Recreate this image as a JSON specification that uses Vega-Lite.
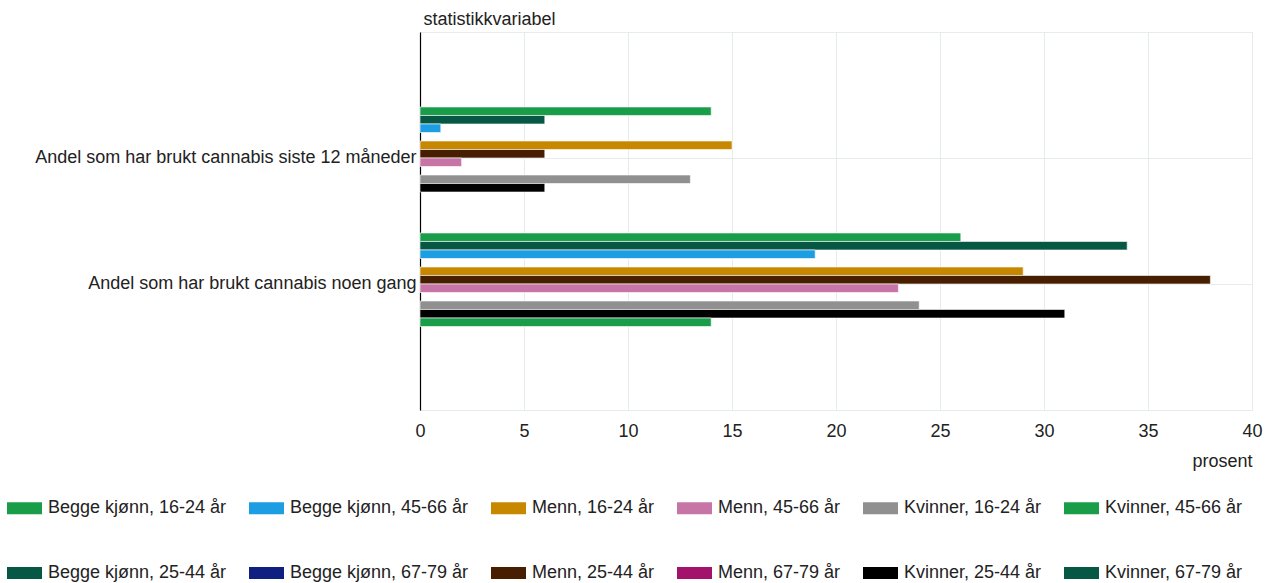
{
  "$schema": "https://vega.github.io/schema/vega-lite/v6.json",
  "width": 832,
  "height": 378,
  "autosize": {"type": "none"},
  "padding": {"left": 420, "top": 32, "right": 22, "bottom": 173},
  "background": "white",
  "config": {"view": {"stroke": "#e6ebeb"}, "font": "Liberation Sans"},
  "data": {
    "values": [
      {"variabel": "Andel som har brukt cannabis siste 12 måneder", "gruppe": "Begge kjønn, 16-24 år", "prosent": 14},
      {"variabel": "Andel som har brukt cannabis siste 12 måneder", "gruppe": "Begge kjønn, 25-44 år", "prosent": 6},
      {"variabel": "Andel som har brukt cannabis siste 12 måneder", "gruppe": "Begge kjønn, 45-66 år", "prosent": 1},
      {"variabel": "Andel som har brukt cannabis siste 12 måneder", "gruppe": "Menn, 16-24 år", "prosent": 15},
      {"variabel": "Andel som har brukt cannabis siste 12 måneder", "gruppe": "Menn, 25-44 år", "prosent": 6},
      {"variabel": "Andel som har brukt cannabis siste 12 måneder", "gruppe": "Menn, 45-66 år", "prosent": 2},
      {"variabel": "Andel som har brukt cannabis siste 12 måneder", "gruppe": "Kvinner, 16-24 år", "prosent": 13},
      {"variabel": "Andel som har brukt cannabis siste 12 måneder", "gruppe": "Kvinner, 25-44 år", "prosent": 6},
      {"variabel": "Andel som har brukt cannabis noen gang", "gruppe": "Begge kjønn, 16-24 år", "prosent": 26},
      {"variabel": "Andel som har brukt cannabis noen gang", "gruppe": "Begge kjønn, 25-44 år", "prosent": 34},
      {"variabel": "Andel som har brukt cannabis noen gang", "gruppe": "Begge kjønn, 45-66 år", "prosent": 19},
      {"variabel": "Andel som har brukt cannabis noen gang", "gruppe": "Menn, 16-24 år", "prosent": 29},
      {"variabel": "Andel som har brukt cannabis noen gang", "gruppe": "Menn, 25-44 år", "prosent": 38},
      {"variabel": "Andel som har brukt cannabis noen gang", "gruppe": "Menn, 45-66 år", "prosent": 23},
      {"variabel": "Andel som har brukt cannabis noen gang", "gruppe": "Kvinner, 16-24 år", "prosent": 24},
      {"variabel": "Andel som har brukt cannabis noen gang", "gruppe": "Kvinner, 25-44 år", "prosent": 31},
      {"variabel": "Andel som har brukt cannabis noen gang", "gruppe": "Kvinner, 45-66 år", "prosent": 14}
    ]
  },
  "mark": {"type": "bar", "stroke": "white", "strokeWidth": 0.6},
  "encoding": {
    "y": {
      "field": "variabel",
      "type": "nominal",
      "sort": ["Andel som har brukt cannabis siste 12 måneder", "Andel som har brukt cannabis noen gang"],
      "scale": {"paddingInner": 0.19, "paddingOuter": 0.595},
      "axis": {
        "title": "statistikkvariabel",
        "titleAngle": 0,
        "titleAlign": "left",
        "titleBaseline": "alphabetic",
        "titleX": 3,
        "titleY": -8,
        "titleFontSize": 18,
        "titleFontWeight": "normal",
        "titleColor": "#222222",
        "labelFontSize": 18,
        "labelColor": "#222222",
        "labelPadding": 4,
        "labelLimit": 500,
        "ticks": false,
        "domainColor": "#000000",
        "domainWidth": 1.2,
        "grid": true,
        "gridColor": "#e6ebeb",
        "bandPosition": 0.5
      }
    },
    "yOffset": {
      "field": "gruppe",
      "type": "nominal",
      "scale": {
        "domain": ["Begge kjønn, 16-24 år", "Begge kjønn, 25-44 år", "Begge kjønn, 45-66 år", "Begge kjønn, 67-79 år", "Menn, 16-24 år", "Menn, 25-44 år", "Menn, 45-66 år", "Menn, 67-79 år", "Kvinner, 16-24 år", "Kvinner, 25-44 år", "Kvinner, 45-66 år", "Kvinner, 67-79 år"],
        "paddingInner": 0,
        "paddingOuter": 0
      }
    },
    "x": {
      "field": "prosent",
      "type": "quantitative",
      "scale": {"domain": [0, 40], "nice": false},
      "axis": {
        "title": "prosent",
        "titleAlign": "right",
        "titleBaseline": "alphabetic",
        "titleX": 832,
        "titleY": 56,
        "titleFontSize": 18,
        "titleFontWeight": "normal",
        "titleColor": "#222222",
        "labelFontSize": 18,
        "labelColor": "#222222",
        "labelPadding": 12,
        "labelFlush": false,
        "values": [0, 5, 10, 15, 20, 25, 30, 35, 40],
        "ticks": false,
        "domain": false,
        "gridColor": "#e6ebeb"
      }
    },
    "color": {
      "field": "gruppe",
      "type": "nominal",
      "scale": {
        "domain": ["Begge kjønn, 16-24 år", "Begge kjønn, 45-66 år", "Menn, 16-24 år", "Menn, 45-66 år", "Kvinner, 16-24 år", "Kvinner, 45-66 år", "Begge kjønn, 25-44 år", "Begge kjønn, 67-79 år", "Menn, 25-44 år", "Menn, 67-79 år", "Kvinner, 25-44 år", "Kvinner, 67-79 år"],
        "range": ["#1a9d49", "#1d9de2", "#c78800", "#c775a7", "#909090", "#1a9d49", "#075745", "#0f2080", "#471f00", "#a3136c", "#000000", "#075745"]
      },
      "legend": {
        "orient": "none",
        "legendX": -413,
        "legendY": 458.5,
        "direction": "horizontal",
        "columns": 6,
        "title": null,
        "padding": 0,
        "symbolType": "M-1,-0.343H1V0.343H-1Z",
        "symbolSize": 1225,
        "symbolStrokeWidth": 0,
        "symbolOpacity": 1,
        "labelFontSize": 18,
        "labelColor": "#222222",
        "labelOffset": 6,
        "labelLimit": 400,
        "columnPadding": 22,
        "rowPadding": 38
      }
    }
  }
}
